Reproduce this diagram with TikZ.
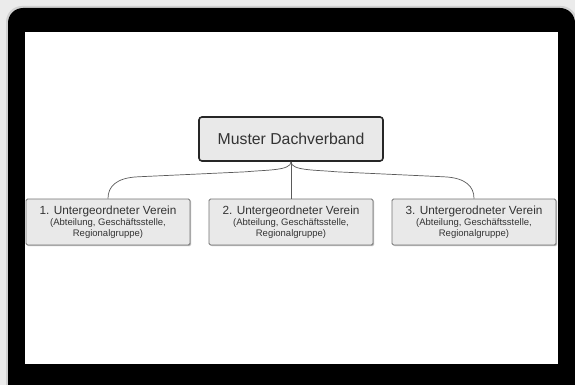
\documentclass[tikz,border=0pt]{standalone}
\usepackage{fontspec}
\setmainfont{Liberation Sans}
\usepackage{xcolor}
\usepackage{tikz}
\usetikzlibrary{shadows}
\definecolor{boxgray}{HTML}{E9E9E9}
\definecolor{txtgray}{HTML}{333333}
\definecolor{linegray}{HTML}{5A5A5A}
\tikzset{mainbox/.style={draw=black!85, line width=1.6pt, fill=boxgray, rounded corners=3pt, minimum width=184pt, minimum height=44pt, text=txtgray, font=\fontsize{15.8}{18}\selectfont},
subbox/.style={draw=black!55, line width=0.8pt, fill=boxgray, rounded corners=1.5pt, minimum width=164pt, minimum height=46pt, text=txtgray, align=center, inner sep=2pt, drop shadow={shadow xshift=1.2pt, shadow yshift=-1.2pt, fill=black!25, opacity=1}},
link/.style={draw=linegray, line width=0.7pt}}
\newcommand{\vereintext}[1]{{\fontsize{11.8}{12}\selectfont #1}\\[-1pt]{\fontsize{9.5}{9.5}\selectfont (Abteilung, Geschäftsstelle,}\\[-1.5pt]{\fontsize{9.5}{9.5}\selectfont Regionalgruppe)}}

\begin{document}
\begin{tikzpicture}[x=1pt, y=-1pt]
\useasboundingbox (0,0) rectangle (575,385);
%frame
\fill[black!8] (0,0) rectangle (575,385);
\begin{scope}
\clip (0,0) rectangle (575,385);
\fill[black!18, rounded corners=16pt] (6,6) rectangle (577,400);
\fill[black, rounded corners=15pt] (8,8) rectangle (575,400);
\end{scope}
\fill[white] (25,32) rectangle (558,364);
%boxes
\node[mainbox] (dach) at (291,139) {Muster Dachverband};
\node[subbox] (v1) at (108,222) {\vereintext{1. Untergeordneter Verein}};
\node[subbox] (v2) at (291,222) {\vereintext{2. Untergeordneter Verein}};
\node[subbox] (v3) at (474,222) {\vereintext{3. Untergerodneter Verein}};
%connectors
\draw[link] (dach.south) -- (v2.north);
\draw[link] (dach.south) .. controls +(0,9) and +(20,-2) .. ++(-45,10) -- ++(-108,5) .. controls +(-22,1) and +(0,-12) .. (v1.north);
\draw[link] (dach.south) .. controls +(0,9) and +(-20,-2) .. ++(45,10) -- ++(108,5) .. controls +(22,1) and +(0,-12) .. (v3.north);
\end{tikzpicture}
\end{document}
